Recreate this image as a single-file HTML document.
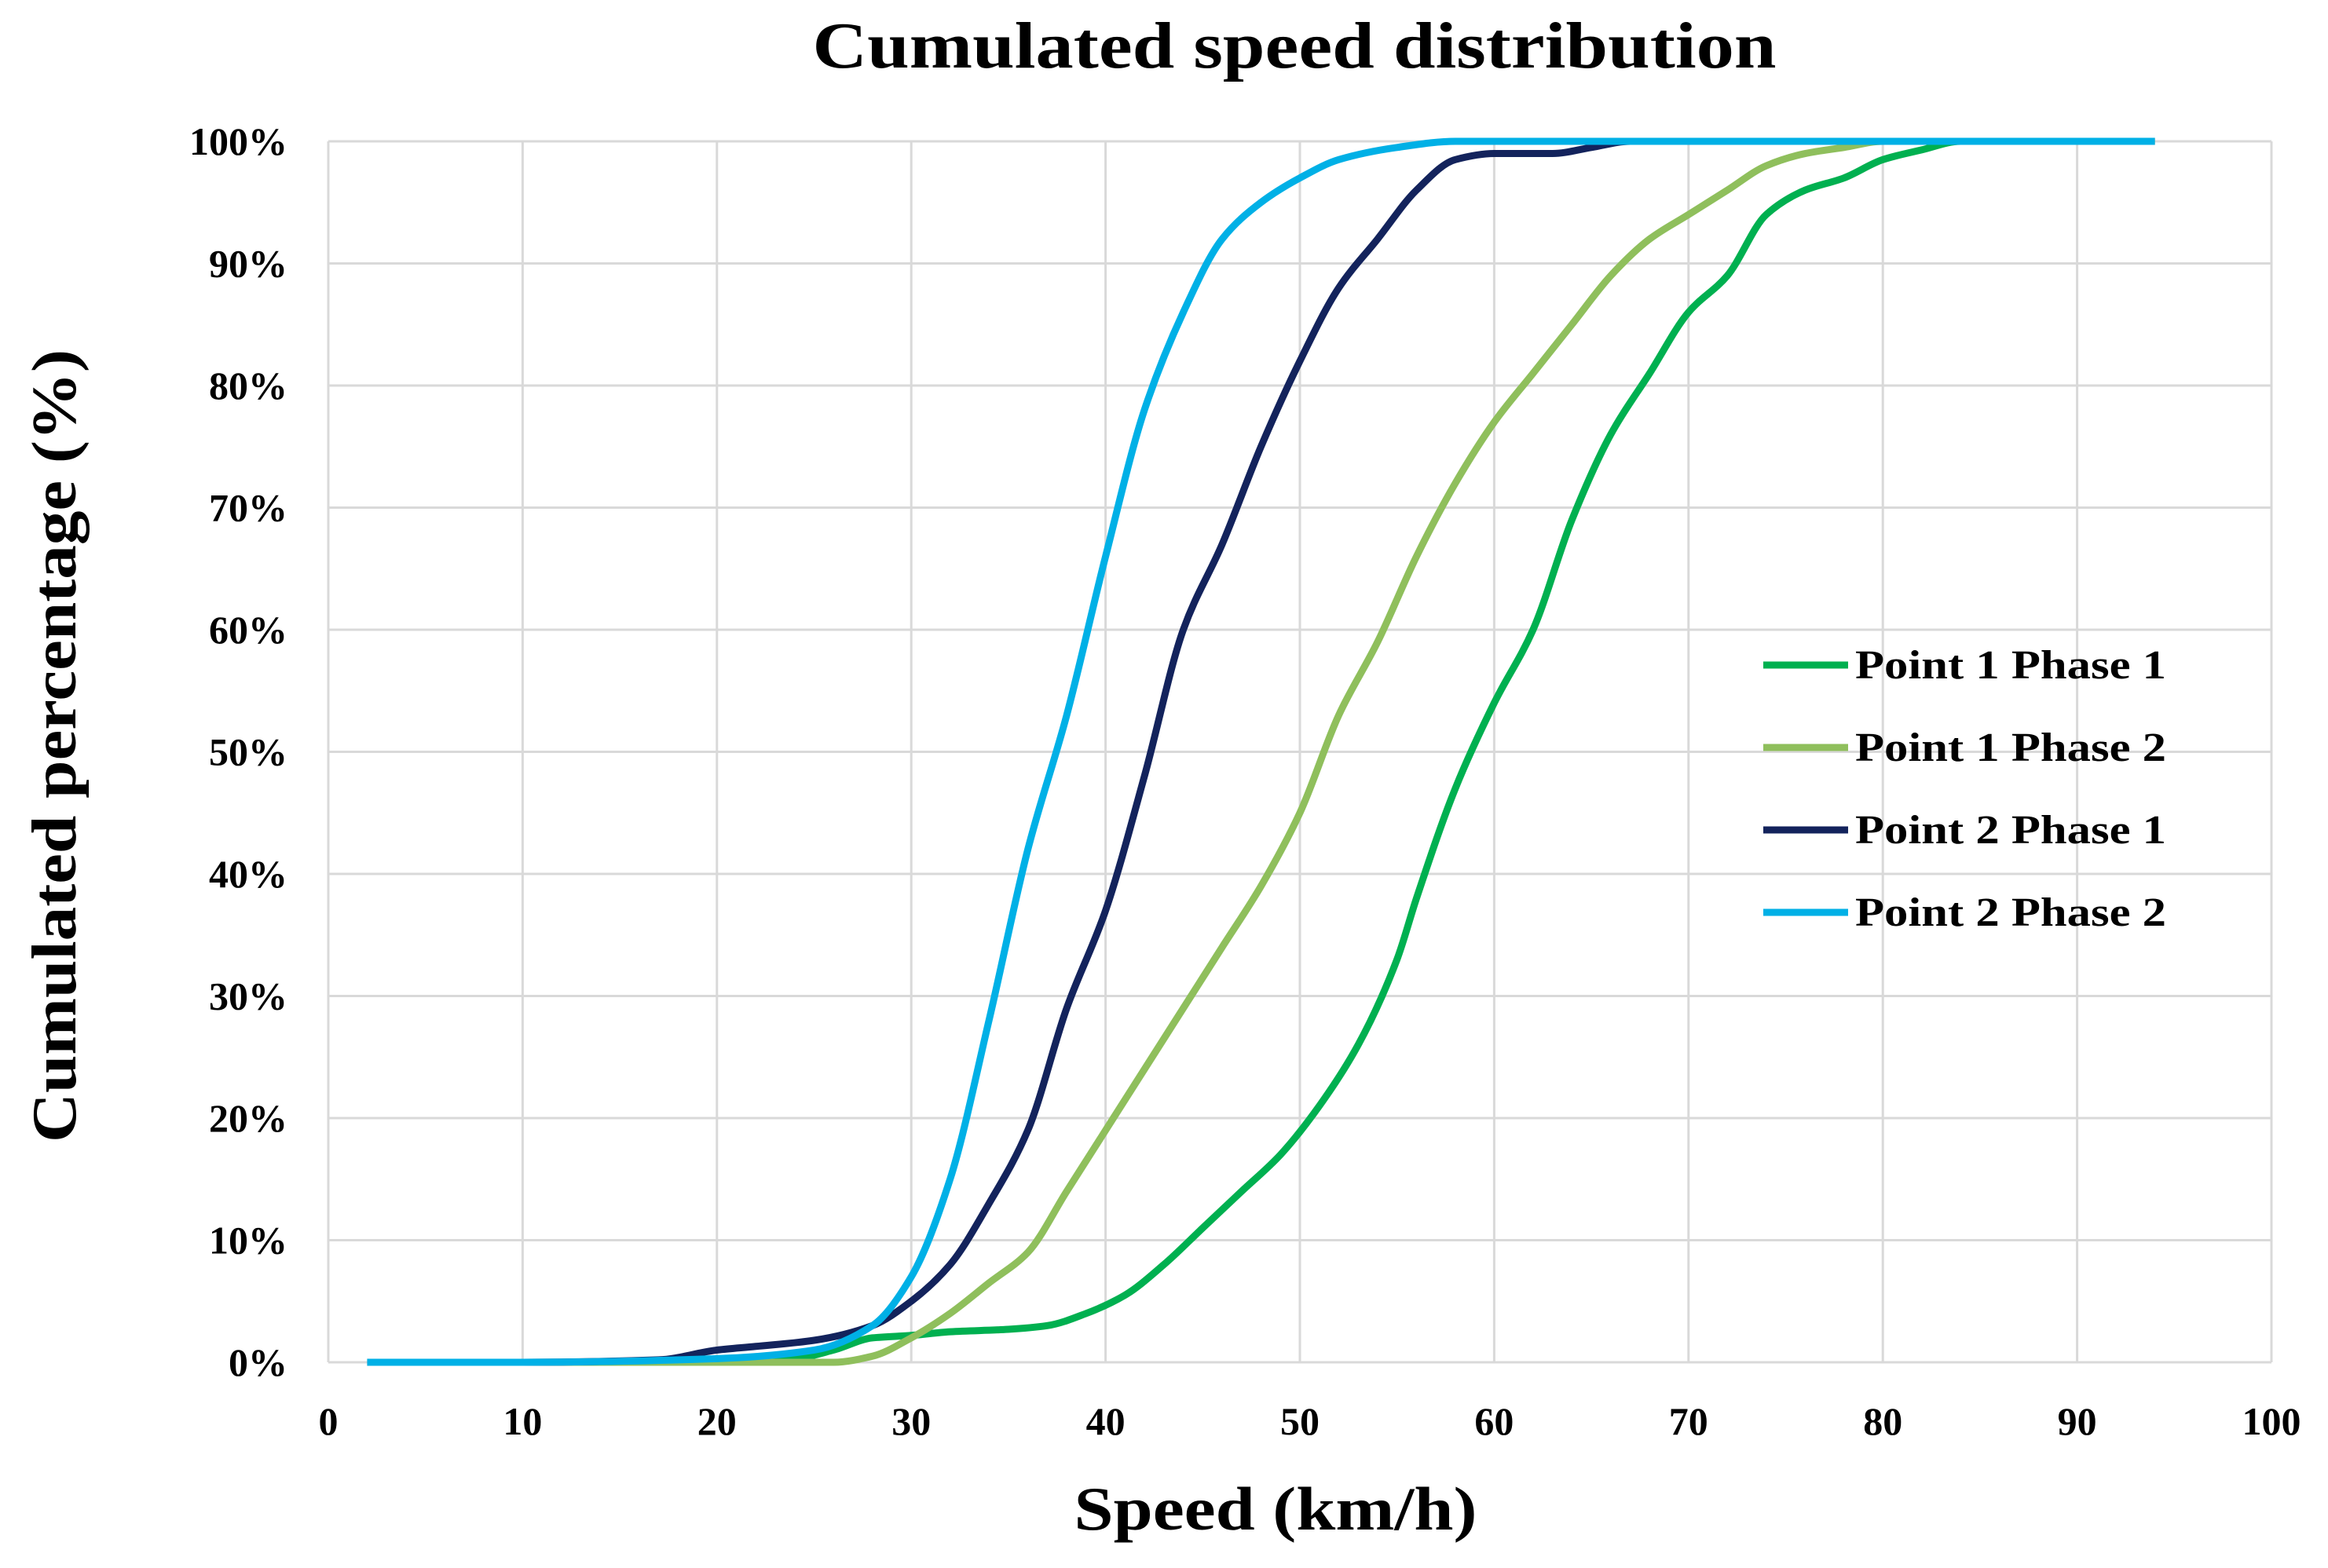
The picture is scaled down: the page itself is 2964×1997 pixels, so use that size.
<!DOCTYPE html>
<html><head><meta charset="utf-8"><style>
html,body{margin:0;padding:0;background:#fff;}
svg{display:block;}
text{font-family:"Liberation Serif",serif;font-weight:bold;fill:#000;}
</style></head><body>
<svg id="chart" width="2964" height="1997" viewBox="0 0 2964 1997">
<text x="1648" y="86" font-size="84" text-anchor="middle" textLength="1227" lengthAdjust="spacingAndGlyphs">Cumulated speed distribution</text>
<g id="grid"></g>
<g id="ticks"></g>
<g id="series"></g>
<text x="1624" y="1948" font-size="78" text-anchor="middle" textLength="513" lengthAdjust="spacingAndGlyphs">Speed (km/h)</text>
<text transform="translate(96,950) rotate(-90)" font-size="80" text-anchor="middle" textLength="1010" lengthAdjust="spacingAndGlyphs">Cumulated percentage (%)</text>
<g id="legend"></g>
</svg>
<script>
const xTicks = [0,10,20,30,40,50,60,70,80,90,100];
const yTicks = [0,10,20,30,40,50,60,70,80,90,100];
const seriesNames = ["Point 1 Phase 1","Point 1 Phase 2","Point 2 Phase 1","Point 2 Phase 2"];
const seriesColors = ["#00b050","#8fbf5c","#13235c","#00b0e6"];
const p1p1X = [2,10,20,24,26,28,30,32,35,37,39,41,43,45,47,49,51,53,55,56,58,60,62,64,66,68,70,72,74,76,78,80,82,84,94];
const p1p1Y = [0,0,0,0.3,1,2,2.2,2.5,2.7,3,4,5.5,8,11,14,17,21,26,33,38,47,54,60,69,76,81,86,89,94,96,97,98.5,99.3,100,100];
const p1p2X = [2,10,20,26,28,30,32,34,36,38,40,42,44,46,48,50,52,54,56,58,60,62,64,66,68,70,72,74,76,78,80,94];
const p1p2Y = [0,0,0,0,0.5,2,4,6.5,9,14,19,24,29,34,39,45,53,59,66,72,77,81,85,89,92,94,96,98,99,99.5,100,100];
const p2p1X = [2,10,17,20,22,25,28,30,32,34,36,38,40,42,44,46,48,50,52,54,56,58,60,63,65,67,94];
const p2p1Y = [0,0,0.2,1,1.3,1.8,3,5,8,13,19,29,37,48,60,67,75,82,88,92,96,98.5,99,99,99.5,100,100];
const p2p2X = [2,10,20,25,28,30,32,34,36,38,40,42,44,46,48,50,52,55,58,94];
const p2p2Y = [0,0,0.3,1,3,7,15,28,42,53,66,78,86,92,95,97,98.5,99.5,100,100];
const seriesX = [p1p1X,p1p2X,p2p1X,p2p2X];
const seriesY = [p1p1Y,p1p2Y,p2p1Y,p2p2Y];

const L=418,R=2892,T=180,B=1735;
const sx=v=>L+(v/100)*(R-L);
const sy=v=>B-(v/100)*(B-T);
const NS="http://www.w3.org/2000/svg";
function mk(tag,attrs,parent){const e=document.createElementNS(NS,tag);for(const k in attrs)e.setAttribute(k,attrs[k]);parent.appendChild(e);return e;}
const grid=document.getElementById('grid'),ticks=document.getElementById('ticks');
xTicks.forEach(t=>{
  const l=mk('line',{x1:sx(t),x2:sx(t),y1:T,y2:B,stroke:'#d9d9d9','stroke-width':3},grid);
  
  
  const tx=mk('text',{x:sx(t),y:B+92,'font-size':50,'text-anchor':'middle'},ticks);
  tx.textContent=t;
  
  
});
yTicks.forEach(t=>{
  const l=mk('line',{x1:L,x2:R,y1:sy(t),y2:sy(t),stroke:'#d9d9d9','stroke-width':3},grid);
  
  
  const tx=mk('text',{x:L-52,y:sy(t)+17,'font-size':50,'text-anchor':'end'},ticks);
  tx.textContent=t+'%';
  
  
});
// monotone cubic (Fritsch-Carlson) in pixel space
function monotone(pts){
  const n=pts.length,dx=[],dy=[],m=[],t=[];
  for(let i=0;i<n-1;i++){dx.push(pts[i+1][0]-pts[i][0]);dy.push(pts[i+1][1]-pts[i][1]);m.push(dy[i]/dx[i]);}
  t[0]=m[0];t[n-1]=m[n-2];
  for(let i=1;i<n-1;i++){ if(m[i-1]*m[i]<=0) t[i]=0; else { const w1=2*dx[i]+dx[i-1],w2=dx[i]+2*dx[i-1]; t[i]=(w1+w2)/(w1/m[i-1]+w2/m[i]); } }
  let d='M'+pts[0][0]+','+pts[0][1];
  for(let i=0;i<n-1;i++){
    const h=dx[i]/3;
    d+=' C'+(pts[i][0]+h)+','+(pts[i][1]+t[i]*h)+' '+(pts[i+1][0]-h)+','+(pts[i+1][1]-t[i+1]*h)+' '+pts[i+1][0]+','+pts[i+1][1];
  }
  return d;
}
const series=document.getElementById('series'),legend=document.getElementById('legend');
seriesNames.forEach((n,i)=>{
  const pts=seriesX[i].map((x,j)=>[sx(x),sy(seriesY[i][j])]);
  const p=mk('path',{d:monotone(pts),fill:'none',stroke:seriesColors[i],'stroke-width':9,'stroke-linejoin':'round','stroke-linecap':'butt'},series);
  
  
  const y=847+i*105;
  const g=mk('g',{},legend);
  
  
  mk('line',{x1:2245,x2:2353,y1:y,y2:y,stroke:seriesColors[i],'stroke-width':9},g);
  const t=mk('text',{x:2362,y:y+17,'font-size':52,textLength:396,lengthAdjust:'spacingAndGlyphs'},g);
  t.textContent=n;
});
</script>
</body></html>
